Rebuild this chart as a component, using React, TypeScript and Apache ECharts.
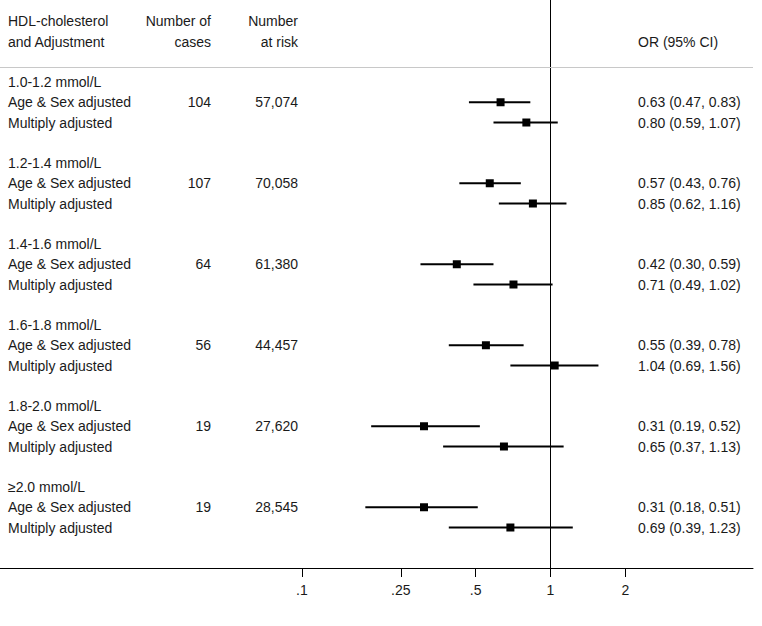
import React, { useEffect, useRef } from "react";
import * as echarts from "echarts";

const groups = ["1.0-1.2 mmol/L", "1.2-1.4 mmol/L", "1.4-1.6 mmol/L", "1.6-1.8 mmol/L", "1.8-2.0 mmol/L", "≥2.0 mmol/L"];
const cases = [104, 107, 64, 56, 19, 19];
const atRisk = ["57,074", "70,058", "61,380", "44,457", "27,620", "28,545"];
const ageOR = [0.63, 0.57, 0.42, 0.55, 0.31, 0.31];
const ageLo = [0.47, 0.43, 0.3, 0.39, 0.19, 0.18];
const ageHi = [0.83, 0.76, 0.59, 0.78, 0.52, 0.51];
const multOR = [0.8, 0.85, 0.71, 1.04, 0.65, 0.69];
const multLo = [0.59, 0.62, 0.49, 0.69, 0.37, 0.39];
const multHi = [1.07, 1.16, 1.02, 1.56, 1.13, 1.23];
const tickValues = [0.1, 0.25, 0.5, 1, 2];
const tickLabels = [".1", ".25", ".5", "1", "2"];

const FONT = "'Liberation Sans', Arial, sans-serif";
const TEXT_COLOR = "#1a1a1a";
const COL_LEFT = 8;
const COL_CASES = 211;
const COL_RISK = 298;
const COL_OR = 638;

const fmt = (v: number) => v.toFixed(2);

type T = { x: number; align: "left" | "right"; text: string };
const textRows: { row: number; items: T[] }[] = [];
textRows.push({
  row: -3,
  items: [
    { x: COL_LEFT, align: "left", text: "HDL-cholesterol" },
    { x: COL_CASES, align: "right", text: "Number of" },
    { x: COL_RISK, align: "right", text: "Number" },
  ],
});
textRows.push({
  row: -2,
  items: [
    { x: COL_LEFT, align: "left", text: "and Adjustment" },
    { x: COL_CASES, align: "right", text: "cases" },
    { x: COL_RISK, align: "right", text: "at risk" },
    { x: COL_OR, align: "left", text: "OR (95% CI)" },
  ],
});
const ciData: number[][] = [];
groups.forEach((g, k) => {
  const r = 4 * k;
  textRows.push({ row: r, items: [{ x: COL_LEFT, align: "left", text: g }] });
  textRows.push({
    row: r + 1,
    items: [
      { x: COL_LEFT, align: "left", text: "Age & Sex adjusted" },
      { x: COL_CASES, align: "right", text: String(cases[k]) },
      { x: COL_RISK, align: "right", text: atRisk[k] },
      { x: COL_OR, align: "left", text: `${fmt(ageOR[k])} (${fmt(ageLo[k])}, ${fmt(ageHi[k])})` },
    ],
  });
  textRows.push({
    row: r + 2,
    items: [
      { x: COL_LEFT, align: "left", text: "Multiply adjusted" },
      { x: COL_OR, align: "left", text: `${fmt(multOR[k])} (${fmt(multLo[k])}, ${fmt(multHi[k])})` },
    ],
  });
  ciData.push([Math.log10(ageLo[k]), Math.log10(ageHi[k]), Math.log10(ageOR[k]), r + 1]);
  ciData.push([Math.log10(multLo[k]), Math.log10(multHi[k]), Math.log10(multOR[k]), r + 2]);
});

export default function App() {
  const ref = useRef<HTMLDivElement>(null);
  useEffect(() => {
    document.body.style.margin = "0";
    if (!ref.current) return;
    const chart = echarts.init(ref.current, null, { renderer: "svg" });
    const logTicks = tickValues.map((v) => Math.log10(v));
    chart.setOption({
      animation: false,
      backgroundColor: "#fff",
      grid: { left: 0, right: 9, top: 0, bottom: 58, containLabel: false, outerBoundsMode: "none" },
      xAxis: {
        type: "value",
        min: -2.2145,
        max: 0.8149,
        axisLine: { show: true, onZero: false, lineStyle: { color: "#000", width: 1 } },
        axisTick: { show: true, length: 9, customValues: logTicks, lineStyle: { color: "#000", width: 1 } },
        axisLabel: {
          show: true,
          customValues: logTicks,
          margin: 15,
          fontSize: 14,
          fontFamily: FONT,
          color: TEXT_COLOR,
          formatter: (v: number) => {
            let best = 0;
            logTicks.forEach((t, i) => {
              if (Math.abs(t - v) < Math.abs(logTicks[best] - v)) best = i;
            });
            return tickLabels[best];
          },
        },
        splitLine: { show: false },
      },
      yAxis: { type: "value", inverse: true, min: -4.05, max: 24, show: false },
      series: [
        {
          type: "custom",
          name: "ci",
          data: ciData,
          clip: false,
          renderItem: (params: any, api: any) => {
            const lo = api.coord([api.value(0), api.value(3)]);
            const hi = api.coord([api.value(1), api.value(3)]);
            const c = api.coord([api.value(2), api.value(3)]);
            const s = 8;
            return {
              type: "group",
              children: [
                {
                  type: "line",
                  shape: { x1: lo[0], y1: lo[1], x2: hi[0], y2: hi[1] },
                  style: { stroke: "#000", lineWidth: 2 },
                },
                {
                  type: "rect",
                  shape: { x: c[0] - s / 2, y: c[1] - s / 2, width: s, height: s },
                  style: { fill: "#000" },
                },
              ],
            };
          },
          markLine: {
            silent: true,
            symbol: "none",
            label: { show: false },
            lineStyle: { color: "#000", width: 1, type: "solid" },
            data: [{ xAxis: 0 }, { yAxis: -0.75, lineStyle: { color: "#c8c8c8", width: 1, type: "solid" } }],
          },
        },
        {
          type: "custom",
          name: "text",
          data: textRows.map((r) => [0, r.row]),
          clip: false,
          silent: true,
          renderItem: (params: any, api: any) => {
            const y = api.coord([0, api.value(1)])[1];
            const row = textRows[params.dataIndex];
            return {
              type: "group",
              children: row.items.map((it) => ({
                type: "text",
                x: it.x,
                y,
                style: {
                  text: it.text,
                  fill: TEXT_COLOR,
                  fontSize: 14,
                  fontFamily: FONT,
                  align: it.align,
                  verticalAlign: "middle",
                },
              })),
            };
          },
        },
      ],
    });
    return () => chart.dispose();
  }, []);
  return <div ref={ref} style={{ width: 762, height: 626 }} />;
}
